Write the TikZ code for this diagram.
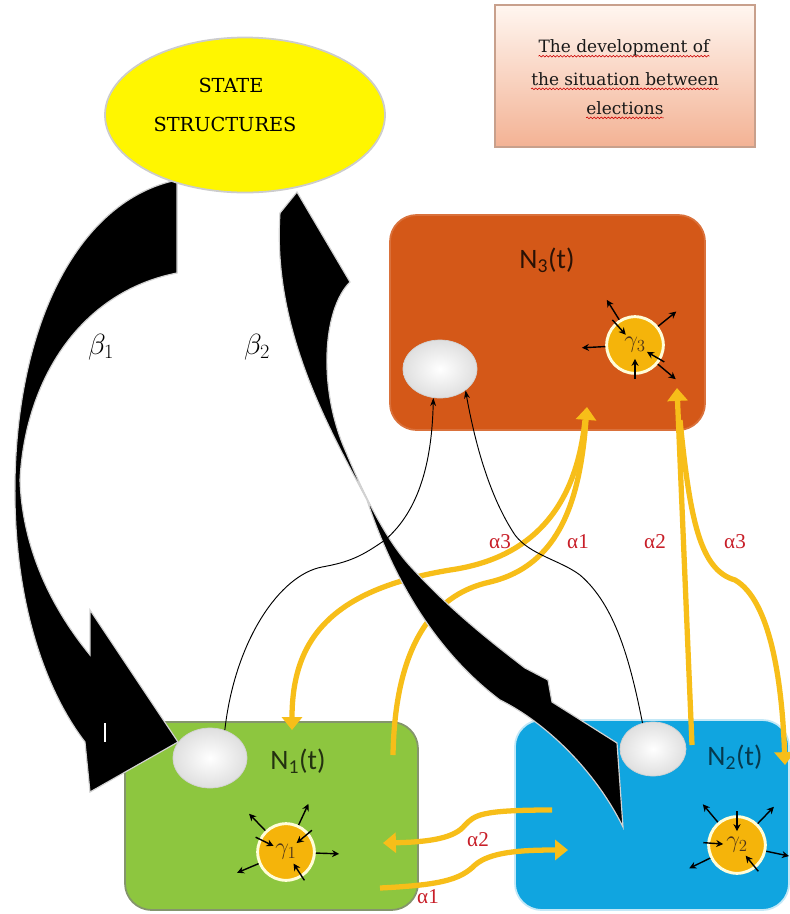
\documentclass[tikz,border=0pt]{standalone}
\usepackage{fontspec}
\usepackage{amsmath}
\usetikzlibrary{arrows.meta,shapes.geometric,decorations.pathmorphing}
\newfontfamily\cardfont{Carlito}
\newfontfamily\slabfont{DejaVu Serif}
\newfontfamily\greekfont{Liberation Serif}

\definecolor{stateyellow}{RGB}{255,246,0}
\definecolor{nthree}{RGB}{212,88,24}
\definecolor{ngreen}{RGB}{141,198,63}
\definecolor{nblue}{RGB}{16,165,224}
\definecolor{gamfill}{RGB}{245,180,10}
\definecolor{feedyellow}{RGB}{247,190,25}
\definecolor{alphared}{RGB}{200,30,40}
\definecolor{notetop}{RGB}{255,246,240}
\definecolor{notebot}{RGB}{243,178,148}
\definecolor{noteedge}{RGB}{200,160,140}

\begin{document}
\begin{tikzpicture}[x=0.03cm,y=-0.03cm,
  panel/.style={line width=1.5pt,rounded corners=0.8cm,inner sep=0pt},
  disc/.style={ellipse,draw=gray!35,line width=0.6pt,inner color=white,outer color=gray!25,inner sep=0pt},
  gam/.style={circle,fill=gamfill,draw=white!85!yellow,line width=2.5pt,minimum size=1.7cm,inner sep=0pt,text=brown!40!black,font=\fontsize{20}{22}\selectfont},
  ray/.style={-{Stealth[length=6pt,width=6pt]},line width=1.2pt},
  feed/.style={draw=feedyellow,line width=4.5pt,-{Triangle[length=11pt,width=17pt]}},
  link/.style={-{Stealth[length=7pt,width=5pt]},line width=0.8pt},
  alab/.style={text=alphared,font=\greekfont\fontsize{18}{20}\selectfont},
  plab/.style={font=\cardfont\fontsize{24}{28}\selectfont},
  blade/.style={fill=black,draw=gray!35,line width=1pt},
  tline/.style={inner sep=0pt,font=\slabfont\fontsize{14.5}{16}\selectfont,text=black!90},
  wavy/.style={draw=red!80!black,line width=0.5pt,decorate,decoration={snake,amplitude=0.7pt,segment length=3pt}}]

\fill[white] (0,0) rectangle (790,914);
\useasboundingbox (0,0) rectangle (790,914);

% note box
\node[draw=noteedge,line width=1pt,top color=notetop,bottom color=notebot,minimum width=7.8cm,minimum height=4.26cm] (note) at (625,76) {};
\node[tline] (t1) at (624,48) {The development of};
\node[tline] (t2) at (625,79) {the situation between};
\node[tline] (t3) at (625,108) {elections};
\draw[wavy] ([yshift=-3pt]t1.base west) -- ([yshift=-3pt]t1.base east);
\draw[wavy] ([yshift=-3pt]t2.base west) -- ([yshift=-3pt]t2.base east);
\draw[wavy] ([yshift=-3pt]t3.base west) -- ([yshift=-3pt]t3.base east);

% the three groups
\node[panel,fill=nthree,draw=nthree!85!white,minimum width=9.45cm,minimum height=6.45cm] (N3) at (547.5,322.5) {};
\node[panel,fill=ngreen,draw=gray!70!ngreen,minimum width=8.79cm,minimum height=5.64cm] (N1) at (271.5,816) {};
\node[panel,fill=nblue,draw=nblue!25!white,minimum width=8.22cm,minimum height=5.7cm] (N2) at (652,815) {};

% ends of the alpha flows
\coordinate (a3beg) at (585,420);
\coordinate (a3tip) at (292,730);
\coordinate (a1beg) at (393,755);
\coordinate (a1tip) at (587,407);
\coordinate (a2beg) at (692,745);
\coordinate (a2tip) at (677,388);
\coordinate (r3beg) at (680,420);
\coordinate (r3tip) at (785,765);
\coordinate (b2beg) at (552,810);
\coordinate (b2tip) at (383,843);
\coordinate (b1beg) at (380,888);
\coordinate (b1tip) at (568,850);

\draw[feed] (a3beg) .. controls (575,520) and (520,560) .. (450,570)
  .. controls (330,590) and (292,640) .. (a3tip);
\draw[feed] (a1beg) .. controls (395,650) and (430,595) .. (490,582)
  .. controls (560,565) and (580,500) .. (a1tip);
\draw[feed] (a2beg) -- (a2tip);
\draw[feed] (r3beg) .. controls (690,520) and (700,570) .. (735,580)
  .. controls (770,600) and (782,680) .. (r3tip);
\draw[feed] (b2beg) .. controls (480,810) and (475,815) .. (465,825)
  .. controls (455,838) and (430,842) .. (b2tip);
\draw[feed] (b1beg) .. controls (440,885) and (460,880) .. (475,865)
  .. controls (490,852) and (520,850) .. (b1tip);

% beta arrows
\path[blade] (177,180) .. controls (80,200) and (18,320) .. (15,480)
  .. controls (13,600) and (45,690) .. (85,742)
  -- (90,792) -- (178,742) -- (90,610) -- (90,655)
  .. controls (45,600) and (22,540) .. (20,480)
  .. controls (25,380) and (80,292) .. (177,273) -- cycle;
\draw[white,line width=1.2pt] (105,723) -- (105,742);
\path[blade] (297,192) -- (350,282)
  .. controls (322,310) and (318,390) .. (346,452)
  .. controls (368,505) and (390,545) .. (412,568)
  .. controls (450,610) and (495,645) .. (525,668)
  -- (548,680) -- (552,702) -- (617,743) -- (623,827)
  .. controls (595,770) and (545,722) .. (500,700)
  .. controls (440,655) and (395,585) .. (367,500)
  .. controls (330,430) and (272,330) .. (280,213) -- cycle;

% state structures
\node[ellipse,fill=stateyellow,draw=gray!40,line width=1.5pt,minimum width=8.4cm,minimum height=4.65cm] (state) at (245,115) {};
\node[font=\slabfont\fontsize{16.5}{18}\selectfont] (st1) at (231,85) {STATE};
\node[font=\slabfont\fontsize{16.5}{18}\selectfont] (st2) at (225,124) {STRUCTURES};

% discs
\node[disc,minimum width=2.22cm,minimum height=1.74cm] (e3) at (440,369) {};
\node[disc,minimum width=2.22cm,minimum height=1.8cm] (e1) at (210,758) {};
\node[disc,minimum width=1.98cm,minimum height=1.62cm] (e2) at (653,749) {};

\draw[link] (e1.62) .. controls (235,640) and (280,575) .. (322,567)
  .. controls (350,562) and (362,556) .. (385,540)
  .. controls (420,510) and (432,460) .. (e3.-103);
\draw[link] (e2.112) .. controls (630,660) and (615,605) .. (580,575)
  .. controls (560,560) and (530,555) .. (515,535)
  .. controls (495,505) and (478,460) .. (e3.-40);

% gammas
\node[gam] (g1) at (286,852) {$\gamma_1$};
\node[gam] (g2) at (737,845) {$\gamma_2$};
\node[gam] (g3) at (635,345) {$\gamma_3$};
\foreach \a in {134,65,-2,203} \draw[ray] (g1.\a) -- ++(\a:0.7cm);
\foreach \a in {154,40,303} \draw[ray] ([shift={(\a:0.12cm)}]g1.\a) -- ++(\a+180:0.6cm);
\foreach \a in {130,46,-12,206} \draw[ray] (g2.\a) -- ++(\a:0.7cm);
\foreach \a in {90,176,309} \draw[ray] ([shift={(\a:0.12cm)}]g2.\a) -- ++(\a+180:0.6cm);
\foreach \a in {122,39,183,320} \draw[ray] (g3.\a) -- ++(\a:0.7cm);
\foreach \a in {132,270,330} \draw[ray] ([shift={(\a:0.12cm)}]g3.\a) -- ++(\a+180:0.6cm);

% labels
\node[plab,text=black!80!nthree] (l3) at (547,260) {N\textsubscript{3}(t)};
\node[plab,text=black!75!ngreen] (l1) at (298,761) {N\textsubscript{1}(t)};
\node[plab,text=black!65!nblue] (l2) at (735,757) {N\textsubscript{2}(t)};
\node[font=\fontsize{25}{28}\selectfont] (lb1) at (101,347) {$\beta_1$};
\node[font=\fontsize{25}{28}\selectfont] (lb2) at (257,347) {$\beta_2$};
\node[alab] (la3) at (500,542) {α3};
\node[alab] (la1) at (578,542) {α1};
\node[alab] (la2) at (655,542) {α2};
\node[alab] (lr3) at (735,542) {α3};
\node[alab] (lb2a) at (478,840) {α2};
\node[alab] (lb1a) at (428,897) {α1};
\end{tikzpicture}
\end{document}
